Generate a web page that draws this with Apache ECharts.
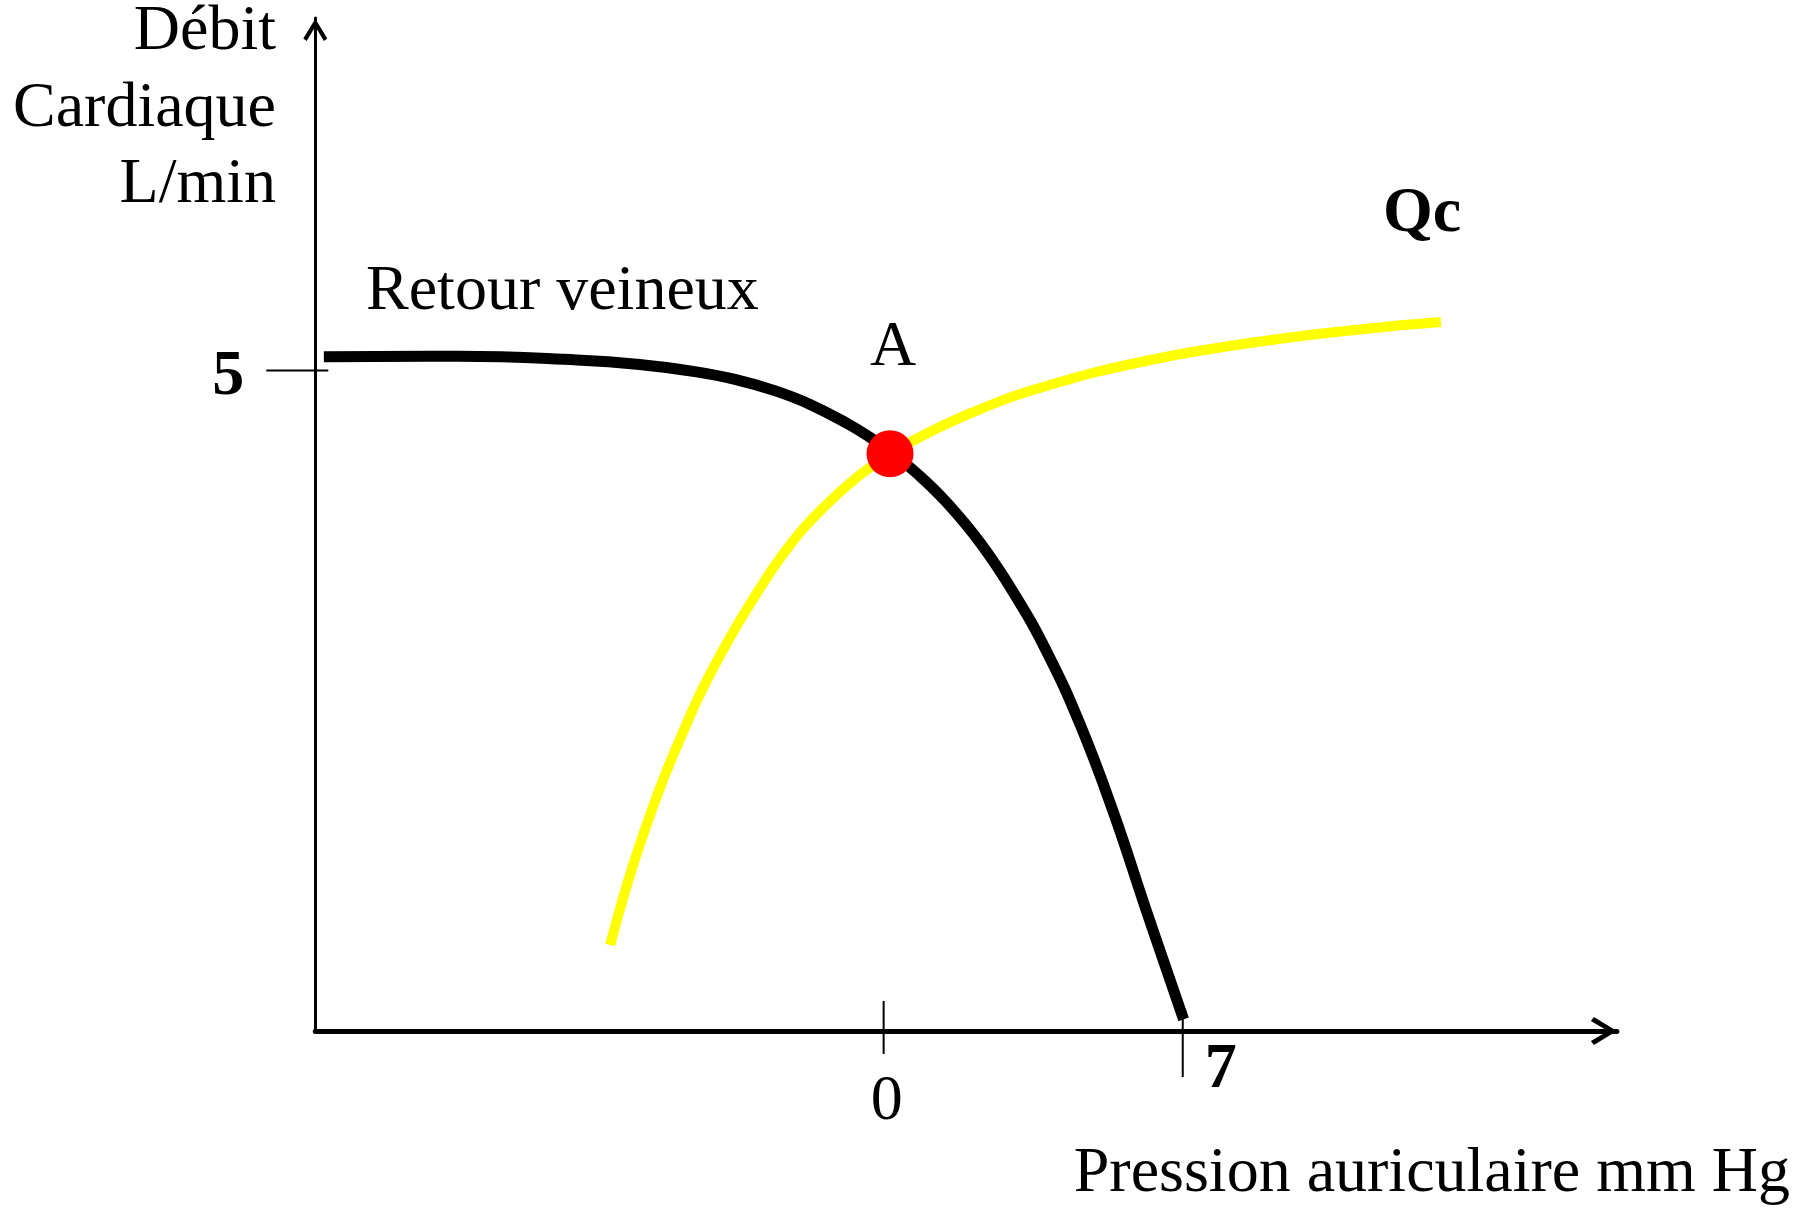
<!DOCTYPE html>
<html>
<head>
<meta charset="utf-8">
<script src="https://cdn.jsdelivr.net/npm/echarts@6/dist/echarts.min.js"></script>
<style>
  html, body { margin: 0; padding: 0; background: #fff; }
  #chart { width: 1804px; height: 1208px; }
</style>
</head>
<body>
<div id="chart"></div>
<script>
// Retour veineux: [pression auriculaire (mm Hg), débit (L/min)]
const retourVeineux = [
  [-13.10, 5.105], [-9.96, 5.108], [-7.18, 5.080], [-5.71, 5.046], [-4.42, 4.992],
  [-3.48, 4.933], [-2.55, 4.848], [-1.72, 4.744], [-0.79, 4.588], [-0.32, 4.494],
  [0.15, 4.388], [0.81, 4.213], [1.48, 4.000], [2.26, 3.696], [3.04, 3.319],
  [3.82, 2.870], [4.60, 2.319], [5.38, 1.653], [6.16, 0.899], [7.02, 0.088]
];
// Débit cardiaque (Qc): [pression auriculaire (mm Hg), débit (L/min)]
const debitCardiaque = [
  [-6.40, 0.651], [-5.63, 1.484], [-4.53, 2.387], [-3.76, 2.883], [-2.96, 3.319],
  [-2.19, 3.680], [-1.42, 3.960], [-0.62, 4.194], [0.01, 4.334], [0.63, 4.459],
  [2.05, 4.679], [3.73, 4.876], [6.24, 5.080], [8.74, 5.216], [11.24, 5.315], [13.04, 5.368]
];
// Point de fonctionnement A
const pointA = [[0.15, 4.37]];
// Graduations
const xTickValues = [0, 7];
const xTickLabels = ['0', '7'];
const yTickValues = [5];
const yTickLabels = ['5'];

const XMIN = -13.3, XMAX = 17.16, YMIN = 0, YMAX = 7.67;
const SERIF = "'Liberation Serif', 'Times New Roman', serif";

// open chevron arrow head, pointing up
const chevron = 'path://M14 0 L28 23 L24 26 L14 9 L4 26 L0 23 Z';

const chart = echarts.init(document.getElementById('chart'), null, { renderer: 'canvas' });

chart.setOption({
  backgroundColor: '#ffffff',
  animation: false,
  grid: { left: 315.3, right: 187.1, top: 17.9, bottom: 177, containLabel: false },
  xAxis: {
    type: 'value', min: XMIN, max: XMAX,
    axisLine: {
      show: true, onZero: false,
      lineStyle: { color: '#000', width: 5 },
      symbol: ['none', chevron], symbolSize: [28, 26], symbolOffset: [0, -13]
    },
    axisTick: { show: false }, axisLabel: { show: false }, splitLine: { show: false }
  },
  yAxis: {
    type: 'value', min: YMIN, max: YMAX,
    axisLine: {
      show: true, onZero: false,
      lineStyle: { color: '#000', width: 3 },
      symbol: ['none', chevron], symbolSize: [24, 24], symbolOffset: [0, -12]
    },
    axisTick: { show: false }, axisLabel: { show: false }, splitLine: { show: false }
  },
  series: [
    {
      name: 'Qc', type: 'line', data: debitCardiaque,
      smooth: 0.45, showSymbol: false, symbol: 'none',
      lineStyle: { color: '#ffff00', width: 10, cap: 'butt' }, z: 2
    },
    {
      name: 'Retour veineux', type: 'line', data: retourVeineux,
      smooth: 0.45, showSymbol: false, symbol: 'none',
      lineStyle: { color: '#000000', width: 11, cap: 'butt' }, z: 3
    },
    {
      name: 'A', type: 'scatter', data: pointA, symbolSize: 47,
      itemStyle: { color: '#ff0000', opacity: 1 }, z: 5
    }
  ]
});

// ticks and free text placed from the axis scales
const toPx = v => chart.convertToPixel({ gridIndex: 0 }, v);
const axisY = toPx([0, 0])[1];
const axisX = toPx([XMIN, 0])[0];

function txt(text, x, y, opts) {
  return {
    type: 'text', x: x, y: y, z: 10,
    style: Object.assign({
      text: text, fill: '#000', fontFamily: SERIF, fontSize: 64,
      fontWeight: 'normal', align: 'center', verticalAlign: 'middle'
    }, opts || {})
  };
}
function seg(x1, y1, x2, y2) {
  return { type: 'line', z: 10, shape: { x1: x1, y1: y1, x2: x2, y2: y2 },
           style: { stroke: '#000', lineWidth: 2 } };
}

const xTickStyle = [
  { up: 30, down: 23, dx: 3, dy: 71, bold: false },
  { up: 12, down: 46, dx: 38, dy: 39, bold: true }
];
const graphics = [];
xTickValues.forEach((v, i) => {
  const p = toPx([v, 0]);
  const s = xTickStyle[i];
  graphics.push(seg(p[0], axisY - s.up, p[0], axisY + s.down));
  graphics.push(txt(xTickLabels[i], p[0] + s.dx, axisY + s.dy,
    { fontWeight: s.bold ? 'bold' : 'normal' }));
});
yTickValues.forEach((v, i) => {
  const p = toPx([XMIN, v]);
  graphics.push(seg(axisX - 49, p[1], axisX + 13, p[1]));
  graphics.push(txt(yTickLabels[i], axisX - 87, p[1] + 6.5, { fontWeight: 'bold' }));
});

// axis titles and curve names
graphics.push(txt('Débit', 276, 32, { align: 'right' }));
graphics.push(txt('Cardiaque', 276, 109, { align: 'right' }));
graphics.push(txt('L/min', 276, 185, { align: 'right' }));
graphics.push(txt('Pression auriculaire mm Hg', 1790, 1174, { align: 'right' }));
graphics.push(txt('Retour veineux', 366, 292, { align: 'left' }));
graphics.push(txt('Qc', 1383, 214, { align: 'left', fontWeight: 'bold' }));
const a = toPx(pointA[0]);
graphics.push(txt('A', a[0] + 3, a[1] - 106));

chart.setOption({ graphic: graphics });
</script>
</body>
</html>
